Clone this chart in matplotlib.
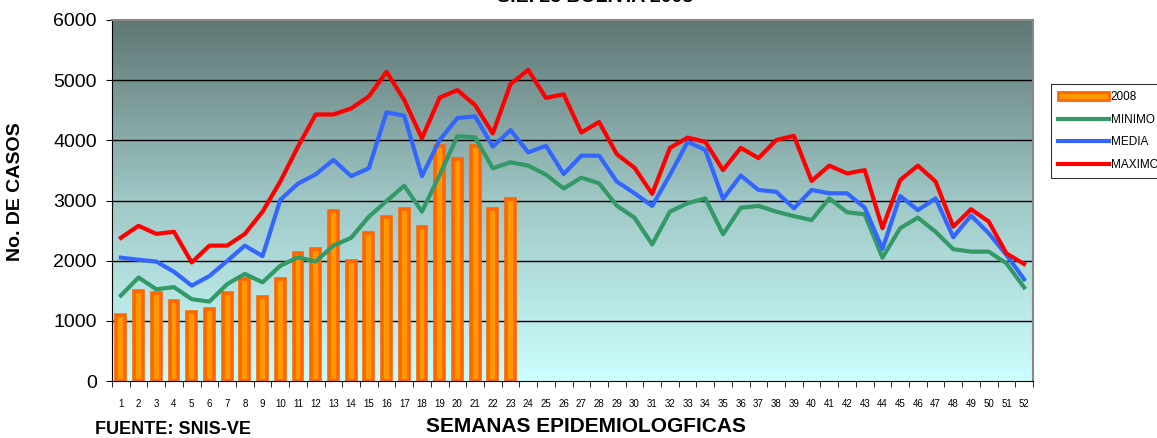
import matplotlib.pyplot as plt
import numpy as np
from matplotlib.colors import LinearSegmentedColormap
from matplotlib.patches import Patch
from matplotlib.lines import Line2D

semanas = list(range(1, 53))

casos_2008 = [1100, 1500, 1470, 1330, 1140, 1200, 1465, 1700, 1400, 1700,
              2130, 2195, 2825, 1995, 2460, 2725, 2860, 2560, 3910, 3690,
              3910, 2860, 3025]

minimo = [1420, 1720, 1525, 1560, 1360, 1320, 1610, 1780, 1640, 1915,
          2055, 1985, 2250, 2380, 2730, 2990, 3245, 2815, 3425, 4070,
          4050, 3535, 3635, 3580, 3430, 3200, 3380, 3285, 2915, 2715,
          2270, 2815, 2955, 3035, 2440, 2880, 2910, 2815, 2740, 2675,
          3035, 2805, 2770, 2050, 2540, 2715, 2480, 2190, 2150, 2150,
          1955, 1555]

media = [2050, 2015, 1985, 1815, 1585, 1745, 1995, 2250, 2075, 3010,
         3280, 3435, 3675, 3405, 3535, 4465, 4410, 3405, 4005, 4370,
         4400, 3895, 4170, 3800, 3910, 3440, 3745, 3745, 3315, 3120,
         2910, 3425, 3975, 3840, 3025, 3415, 3175, 3145, 2870, 3175,
         3120, 3120, 2880, 2195, 3075, 2840, 3035, 2390, 2750, 2455,
         2095, 1690]

maximo = [2380, 2580, 2445, 2480, 1970, 2250, 2250, 2445, 2815, 3315,
          3895, 4430, 4430, 4530, 4730, 5140, 4670, 4035, 4710, 4835,
          4585, 4115, 4935, 5170, 4705, 4765, 4130, 4305, 3770, 3545,
          3110, 3875, 4045, 3975, 3505, 3875, 3705, 4005, 4075, 3325,
          3580, 3450, 3505, 2540, 3340, 3580, 3315, 2565, 2855, 2650,
          2120, 1945]

fig = plt.figure(figsize=(11.57, 4.38), dpi=100)
ax = fig.add_axes([112 / 1157, 57 / 438, 921 / 1157, 361 / 438])

x = np.arange(1, 53)
ax.set_xlim(0.5, 52.5)
ax.set_ylim(0, 6000)

# fondo degradado
cmap = LinearSegmentedColormap.from_list("fondo", ["#CCFFFF", "#9FC8C6", "#5F7775"])
grad = np.linspace(0, 1, 256).reshape(-1, 1)
ax.imshow(grad, extent=[0.5, 52.5, 0, 6000], origin="lower", aspect="auto",
          cmap=cmap, zorder=0)

for y in range(1000, 6000, 1000):
    ax.axhline(y, color="black", lw=1.0, zorder=1)

ax.bar(x[:len(casos_2008)], casos_2008, width=0.5, color="#FF9900",
       edgecolor="#FF6600", linewidth=2.6, zorder=2)
ax.plot(x, minimo, color="#339966", lw=3, zorder=3)
ax.plot(x, media, color="#3366FF", lw=3, zorder=3)
ax.plot(x, maximo, color="#FF0000", lw=3, zorder=3)

ax.set_yticks(range(0, 7000, 1000))
ax.set_yticklabels([str(v) for v in range(0, 7000, 1000)],
                   fontsize=14, family="Liberation Sans")
ax.set_xticks(x)
ax.set_xticklabels([str(s) for s in semanas], fontsize=7,
                   family="Liberation Sans")
ax.set_xticks(np.arange(0.5, 53, 1), minor=True)
ax.tick_params(axis="x", which="major", length=0, pad=13)
ax.tick_params(axis="x", which="minor", length=4, color="black", direction="out")
ax.tick_params(axis="y", length=4, direction="out", pad=7)

for side in ["left", "bottom"]:
    ax.spines[side].set_color("black")
for side in ["top", "right"]:
    ax.spines[side].set_color("#888888")
    ax.spines[side].set_linewidth(1.5)

ax.set_ylabel("No. DE CASOS", fontsize=14, fontweight="bold",
              family="Liberation Sans")
ax.yaxis.set_label_coords(-0.0955, 0.5235)

fig.text(586 / 1157, 1 - 427 / 438, "SEMANAS EPIDEMIOLOGFICAS", ha="center", va="center",
         fontsize=15, fontweight="bold",
         family=["Liberation Sans Narrow", "Liberation Sans"])
fig.text(95 / 1157, 1 - 429 / 438, "FUENTE: SNIS-VE", ha="left", va="center",
         fontsize=13, fontweight="bold", family="Liberation Sans")
fig.text(595 / 1157, 1 + 3 / 438, "S.E. 23 BOLIVIA 2008", ha="center", va="center",
         fontsize=14, fontweight="bold", family="Liberation Sans")

handles = [Patch(facecolor="#FF9900", edgecolor="#FF6600", linewidth=2),
           Line2D([], [], color="#339966", lw=3),
           Line2D([], [], color="#3366FF", lw=3),
           Line2D([], [], color="#FF0000", lw=3)]
leg = fig.legend(handles, ["2008", "MINIMO", "MEDIA", "MAXIMO"],
                 loc="upper left", bbox_to_anchor=(1051 / 1157, 1 - 84 / 438),
                 prop={"family": "Liberation Sans", "size": 8.5},
                 frameon=True, fancybox=False, edgecolor="black",
                 handlelength=4.3, handletextpad=0.15, labelspacing=0.9,
                 borderpad=0.6, borderaxespad=0)
leg.get_frame().set_linewidth(0.8)

fig.savefig("out.png", dpi=100)
